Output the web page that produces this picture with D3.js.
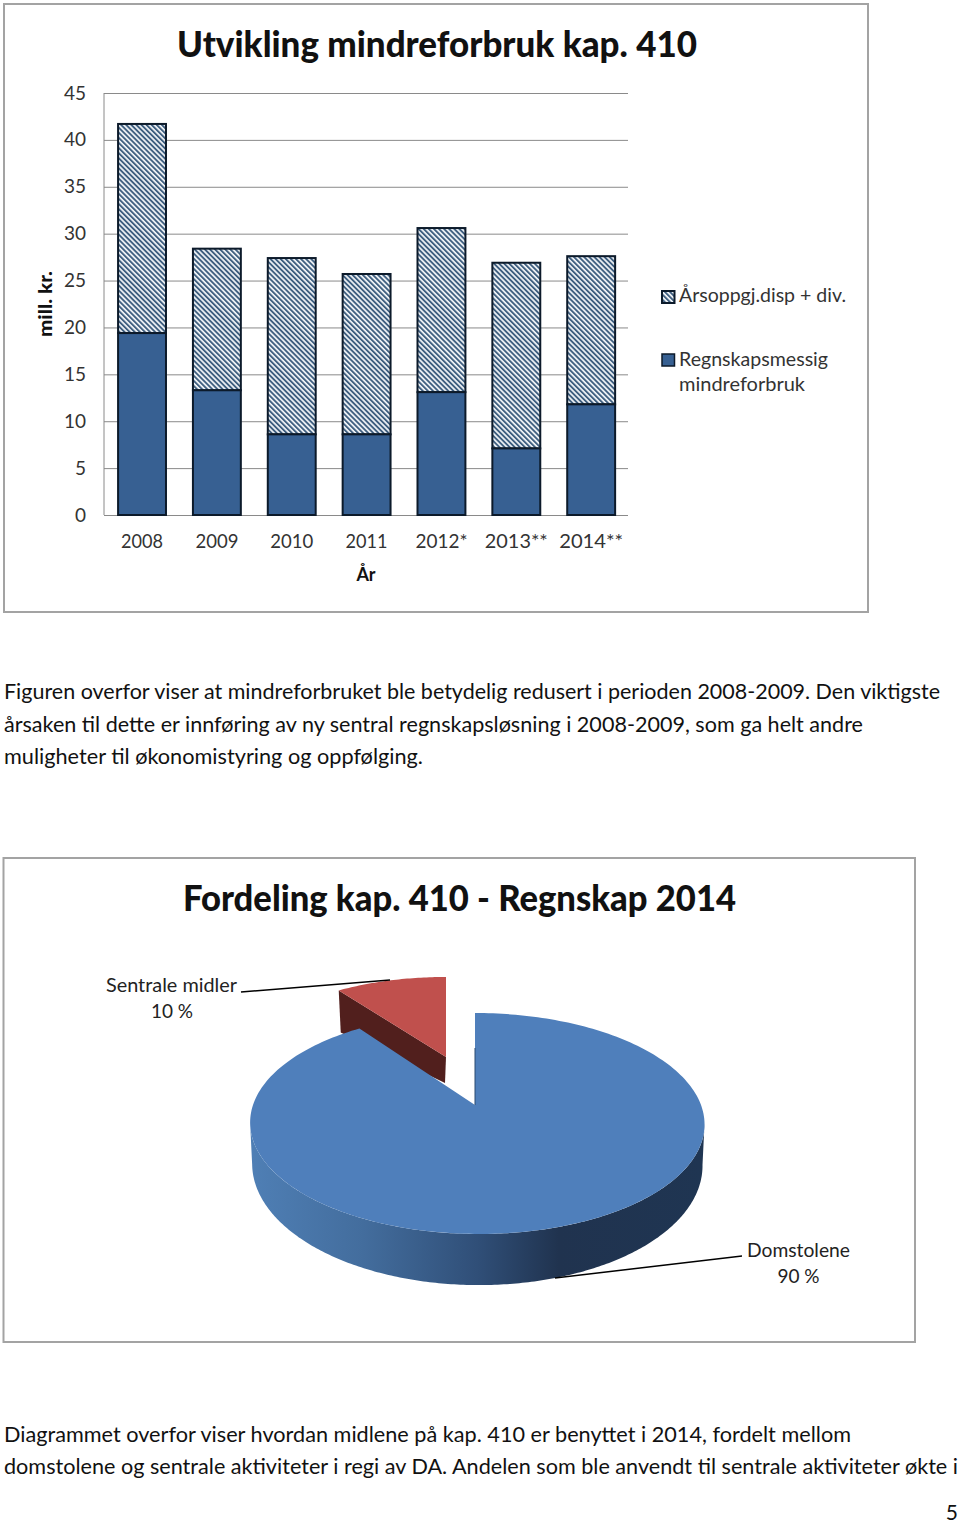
<!DOCTYPE html>
<html><head><meta charset="utf-8">
<script src="https://cdnjs.cloudflare.com/ajax/libs/d3/7.8.5/d3.min.js"></script>
<style>html,body{margin:0;padding:0;background:#fff}svg{display:block}text{font-family:Lato,sans-serif}</style>
</head><body><svg id="c" width="960" height="1523"></svg>
<script>
const years=["2008","2009","2010","2011","2012*","2013**","2014**"];
const regnskap=[19.4,13.3,8.6,8.6,13.1,7.1,11.8];
const aarsoppgj=[22.3,15.1,18.8,17.1,17.5,19.8,15.8];
const yTicks=[0,5,10,15,20,25,30,35,40,45];
const pieNames=["Domstolene","Sentrale midler"];
const pieValues=[90,10];
const svg=d3.select("#c");
const defs=svg.append("defs");
const hatch=defs.append("pattern").attr("id","hatch").attr("patternUnits","userSpaceOnUse")
 .attr("width",3.6).attr("height",3.6).attr("patternTransform","rotate(-45)");
hatch.append("rect").attr("width",3.6).attr("height",3.6).attr("fill","#f2f5f8");
hatch.append("rect").attr("width",1.9).attr("height",3.6).attr("fill","#3f5f80");

function frame(x,y,w,h){svg.append("rect").attr("x",x).attr("y",y).attr("width",w).attr("height",h)
 .attr("fill","#fff").attr("stroke","#a3a3a3").attr("stroke-width",2);}
frame(4,4,864,608);
frame(3.5,858,911.5,484);

function txt(s,x,y,o={}){const t=svg.append("text").attr("x",x).attr("y",y).text(s)
 .attr("font-size",o.size||18).attr("fill",o.fill||"#222").attr("text-anchor",o.anchor||"start");
 if(o.bold)t.attr("font-weight",o.bold===true?700:o.bold);
 if(o.len)t.attr("textLength",o.len).attr("lengthAdjust","spacingAndGlyphs");
 if(o.rot)t.attr("transform",`rotate(${o.rot} ${x} ${y})`);return t;}

// bar chart
const x=d3.scaleBand().domain(years).range([104.6,628.6]).paddingInner(0.36).paddingOuter(0.18);
const y=d3.scaleLinear().domain([0,45]).range([515,93]);
const gy=svg.append("g").attr("transform","translate(104,0)")
 .call(d3.axisLeft(y).tickValues(yTicks).tickSize(-524).tickPadding(18));
gy.select(".domain").attr("stroke","#8a8a8a").attr("d","M0,93V515");
gy.selectAll(".tick line").attr("stroke","#8a8a8a").attr("stroke-width",1);
gy.selectAll("text").attr("font-size",19).attr("font-family","Lato,sans-serif").attr("fill","#333");
const gx=svg.append("g").attr("transform","translate(0,515)")
 .call(d3.axisBottom(x).tickSize(0).tickPadding(20));
gx.select(".domain").remove();
const labelWidths=[42,43,43,42,52,63,64];
gx.selectAll("text").attr("font-size",19).attr("font-family","Lato,sans-serif").attr("fill","#333")
 .attr("textLength",(d,i)=>labelWidths[i]).attr("lengthAdjust","spacingAndGlyphs");

const bars=svg.append("g").attr("stroke","#0c1a2a").attr("stroke-width",2);
years.forEach((yr,i)=>{
 bars.append("rect").attr("x",x(yr)).attr("width",x.bandwidth()).attr("y",y(regnskap[i]+aarsoppgj[i]))
  .attr("height",y(regnskap[i])-y(regnskap[i]+aarsoppgj[i])).attr("fill","url(#hatch)");
 bars.append("rect").attr("x",x(yr)).attr("width",x.bandwidth()).attr("y",y(regnskap[i]))
  .attr("height",y(0)-y(regnskap[i])).attr("fill","#376092");
});
txt("Utvikling mindreforbruk kap. 410",177,57,{size:36,bold:900,len:520,fill:"#111"});
txt("mill. kr.",52,337,{size:18,bold:900,rot:-90,len:66,fill:"#111"});
txt("År",366,581,{size:18,bold:true,anchor:"middle",fill:"#111"});
svg.append("rect").attr("x",662).attr("y",291).attr("width",12.5).attr("height",12).attr("fill","url(#hatch)").attr("stroke","#0c1a2a").attr("stroke-width",2);
svg.append("rect").attr("x",662).attr("y",354).attr("width",12.5).attr("height",12).attr("fill","#376092").attr("stroke","#0c1a2a").attr("stroke-width",1.5);
txt("Årsoppgj.disp + div.",679,302,{size:19,len:167,fill:"#333"});
txt("Regnskapsmessig",679,366,{size:19,len:149,fill:"#333"});
txt("mindreforbruk",679,391,{size:19,len:126,fill:"#333"});

// body text
const bodyLines=[
 ["Figuren overfor viser at mindreforbruket ble betydelig redusert i perioden 2008-2009. Den viktigste",698,936],
 ["årsaken til dette er innføring av ny sentral regnskapsløsning i 2008-2009, som ga helt andre",731,859],
 ["muligheter til økonomistyring og oppfølging.",763,419],
 ["Diagrammet overfor viser hvordan midlene på kap. 410 er benyttet i 2014, fordelt mellom",1441,847],
 ["domstolene og sentrale aktiviteter i regi av DA. Andelen som ble anvendt til sentrale aktiviteter økte i",1473,954]];
bodyLines.forEach(l=>txt(l[0],4,l[1]+0.5,{size:21,len:l[2],fill:"#111"}));
txt("5",958,1520,{size:21,anchor:"end",fill:"#111"});

// pie chart
txt("Fordeling kap. 410 - Regnskap 2014",183,911,{size:36,bold:900,len:553,fill:"#111"});
const arcs=d3.pie().sort(null)(pieValues);
// perspective projection of a flat disc
const persp=-0.1674;
function proj(a,o){const u=Math.sin(a),v=-Math.cos(a),w=1+persp*v;
 return [o.cx+o.R*o.sx*u/w+(o.skew||0)*(v+1), o.cy+o.K*o.sy*v/w+(o.dz||0)];}
const blue={cx:475,cy:1105,R:224,K:107.4,sx:1,sy:1,skew:2};
const blueBottom={cx:475,cy:1105,R:222,K:107.4,sx:1,sy:1.09,dz:39.5,skew:2};
const red={cx:446,cy:1057,R:224,K:107.4,sx:.925,sy:.87};
const line=d3.line();
const angles=(a0,a1,n=240)=>d3.range(n+1).map(i=>a0+(a1-a0)*i/n);
const sideGrad=defs.append("linearGradient").attr("id","side").attr("gradientUnits","userSpaceOnUse")
 .attr("x1",250).attr("x2",704).attr("y1",0).attr("y2",0);
[[0,"#4f7fb5"],[.25,"#436d9d"],[.5,"#304f78"],[.68,"#20334f"],[1,"#1f3552"]].forEach(s=>
 sideGrad.append("stop").attr("offset",s[0]).attr("stop-color",s[1]));
// exploded red slice: side then top
const rs=arcs[1];
const p0=proj(rs.startAngle,red);
svg.append("path").attr("fill","#511f1d").attr("d",line([[red.cx,red.cy],[red.cx-1,red.cy+26],[p0[0]+2,p0[1]+42],p0])+"Z");
svg.append("path").attr("fill","#c0504d").attr("d",line([[red.cx,red.cy],...angles(rs.startAngle,rs.endAngle,40).map(a=>proj(a,red))])+"Z");
// blue side (front half) and top
const bs=arcs[0];
const front=angles(Math.PI/2+0.168,3*Math.PI/2-0.168);
svg.append("path").attr("fill","url(#side)").attr("d",
 line([...front.map(a=>proj(a,blue)),...front.slice().reverse().map(a=>proj(a,blueBottom))])+"Z");
svg.append("path").attr("fill","#4f7fbb").attr("d",
 line([[blue.cx,blue.cy],...angles(bs.startAngle,bs.endAngle).map(a=>proj(a,blue))])+"Z");
svg.append("line").attr("x1",blue.cx).attr("x2",blue.cx).attr("y1",1048).attr("y2",1105).attr("stroke","#2a4a70").attr("stroke-width",1);
// leaders & labels
svg.append("path").attr("fill","none").attr("stroke","#000").attr("stroke-width",1.5).attr("d","M241,992 L390,980");
svg.append("path").attr("fill","none").attr("stroke","#000").attr("stroke-width",1.5).attr("d","M555,1278 L742,1256");
txt(pieNames[1],171.5,992,{size:19,anchor:"middle",len:131,fill:"#222"});
txt(pieValues[1]+" %",172,1018,{size:19,anchor:"middle",fill:"#222"});
txt(pieNames[0],798.5,1257,{size:19,anchor:"middle",len:103,fill:"#222"});
txt(pieValues[0]+" %",798.5,1283,{size:19,anchor:"middle",fill:"#222"});
</script></body></html>
